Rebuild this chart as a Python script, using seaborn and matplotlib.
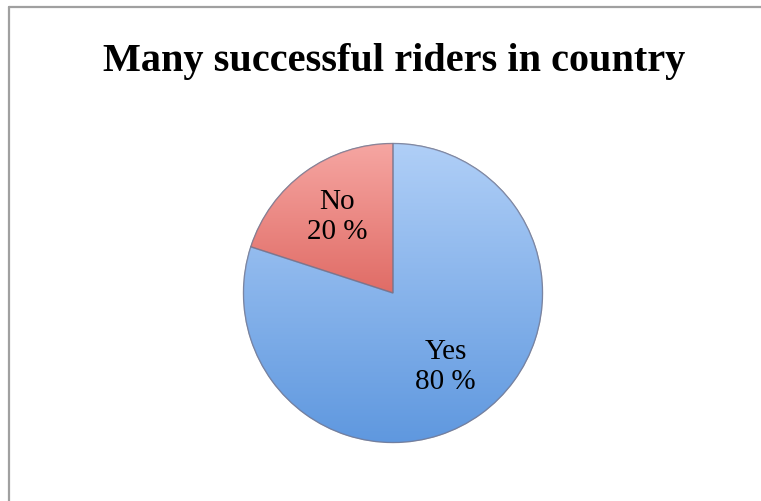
import numpy as np
import matplotlib
matplotlib.use("Agg")
import matplotlib.pyplot as plt
import matplotlib.patches as mpatches
import seaborn as sns
from matplotlib.colors import LinearSegmentedColormap
from matplotlib.lines import Line2D

categories = ["Yes", "No"]
values = [80, 20]
labels_pct = ["80 %", "20 %"]
title = "Many successful riders in country"

sns.set_theme(style="white")
plt.rcParams['font.family'] = ['Liberation Serif', 'DejaVu Serif']

W, H = 761, 502
fig = plt.figure(figsize=(W / 100, H / 100), dpi=100)
fig.patch.set_facecolor("white")

cx, cy, R = 393, 294, 151
ax = fig.add_axes([(cx - R) / W, (H - cy - R) / H, 2 * R / W, 2 * R / H])
ax.axis("off")

base_colors = ["#8fb9ee", "#ee8a84"]
wedges, _ = ax.pie(values, startangle=90, counterclock=False, radius=1,
                   colors=base_colors,
                   wedgeprops=dict(edgecolor="#7f8fa6", linewidth=0.8))

grads = [("#b0cff7", "#5f98df"), ("#f6a6a2", "#e06c66")]
for w, (c_top, c_bot) in zip(wedges, grads):
    cmap = LinearSegmentedColormap.from_list("g", [c_bot, c_top])
    grad = np.linspace(0, 1, 256).reshape(-1, 1)
    verts = w.get_path().vertices
    ymin, ymax = verts[:, 1].min(), verts[:, 1].max()
    im = ax.imshow(grad, cmap=cmap, origin="lower", aspect="auto",
                   extent=[-1, 1, ymin, ymax], zorder=w.get_zorder() + 0.1)
    im.set_clip_path(w)
    edge = mpatches.Wedge((0, 0), 1, w.theta1, w.theta2,
                          facecolor="none", edgecolor=(0.45, 0.45, 0.55, 0.6),
                          linewidth=1.0, zorder=w.get_zorder() + 0.2)
    ax.add_patch(edge)

ax.set_xlim(-1.01, 1.01)
ax.set_ylim(-1.01, 1.01)
ax.set_aspect("equal")

dist = [0.60, 0.64]
for w, cat, pct, d in zip(wedges, categories, labels_pct, dist):
    ang = np.deg2rad((w.theta1 + w.theta2) / 2)
    ax.text(d * np.cos(ang), d * np.sin(ang), f"{cat}\n{pct}", ha="center", va="center",
            fontsize=21, color="black", linespacing=1.2, zorder=10)

fig.text(0.518, (H - 62) / H, title, ha="center", va="center",
         fontsize=29, fontweight="bold", color="black")

fig.add_artist(Line2D([8.5 / W, 8.5 / W], [0, (H - 7.5) / H], color="#a0a0a0", lw=1.6,
                      transform=fig.transFigure))
fig.add_artist(Line2D([8.5 / W, 1], [(H - 7.5) / H, (H - 7.5) / H], color="#a0a0a0", lw=1.6,
                      transform=fig.transFigure))

fig.savefig("out.png", dpi=100, facecolor="white")
